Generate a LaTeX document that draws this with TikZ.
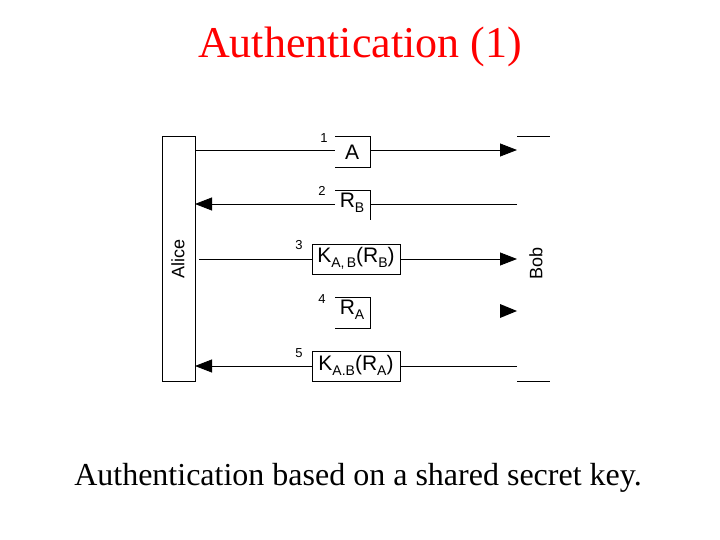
\documentclass[tikz,border=0pt]{standalone}
\usepackage{fontspec}
\setmainfont{Liberation Serif}
\newfontfamily\arial{Liberation Sans}
\usetikzlibrary{arrows.meta}
\newcommand{\sbx}[1]{\raisebox{-0.45ex}{\fontsize{14}{14}\selectfont #1}}
\begin{document}
\begin{tikzpicture}[x=1pt,y=-1pt,
  ln/.style={line width=0.8pt},
  arr/.style={ln,-{Triangle[length=17pt,width=13pt]}},
  lbl/.style={font=\arial\fontsize{21}{21}\selectfont,inner sep=0pt},
  num/.style={font=\arial\fontsize{13}{13}\selectfont,inner sep=0pt}]
\useasboundingbox (0,0) rectangle (720,540);
\node[text=red,font=\fontsize{44}{44}\selectfont] (title) at (360,47) {Authentication (1)};
\node[font=\fontsize{32}{32}\selectfont] (cap) at (358,478) {Authentication based on a shared secret key.};
% Alice
\draw[ln] (162,136) rectangle (195,381);
\node[font=\arial\fontsize{18}{18}\selectfont,rotate=90] (alice) at (178,259) {Alice};
% Bob
\coordinate (bt1) at (517,136); \coordinate (bt2) at (550,136);
\coordinate (bb1) at (517,381); \coordinate (bb2) at (550,381);
\draw[ln] (bt1) -- (bt2); \draw[ln] (bb1) -- (bb2);
\node[font=\arial\fontsize{18}{18}\selectfont,rotate=90] (bob) at (536,263) {Bob};
% row 1
\coordinate (a1) at (195,150); \coordinate (b1) at (517,150);
\draw[ln] (335,136) -- (370,136) -- (370,167) -- (335,167);
\node[lbl] (m1) at (352,152) {A};
\node[num] (n1) at (324,138) {1};
\draw[ln] (a1) -- (335,150);
\draw[arr] (370,150) -- (b1);
% row 2
\coordinate (a2) at (195,204); \coordinate (b2) at (517,204);
\draw[ln] (335,190) -- (370,190) -- (370,220);
\node[lbl] (m2) at (352,203) {R\sbx{B}};
\node[num] (n2) at (322,191) {2};
\draw[ln] (b2) -- (370,204);
\draw[arr] (335,204) -- (a2);
% row 3
\coordinate (a3) at (199,259); \coordinate (b3) at (517,259);
\draw[ln] (312,244) rectangle (400,274);
\node[lbl] (m3) at (356,258) {K\sbx{A,\,B}(R\sbx{B})};
\node[num] (n3) at (299,245) {3};
\draw[ln] (a3) -- (312,259);
\draw[arr] (400,259) -- (b3);
% row 4
\draw[ln] (335,297) -- (370,297) -- (370,328) -- (335,328);
\node[lbl] (m4) at (352,310) {R\sbx{A}};
\node[num] (n4) at (322,299) {4};
\fill (500,304) -- (517,311) -- (500,318) -- cycle;
% row 5
\coordinate (a5) at (195,366); \coordinate (b5) at (517,366);
\draw[ln] (312,351) rectangle (400,381);
\node[lbl] (m5) at (356,365) {K\sbx{A.B}(R\sbx{A})};
\node[num] (n5) at (299,353) {5};
\draw[ln] (b5) -- (400,366);
\draw[arr] (312,366) -- (a5);
\end{tikzpicture}
\end{document}
